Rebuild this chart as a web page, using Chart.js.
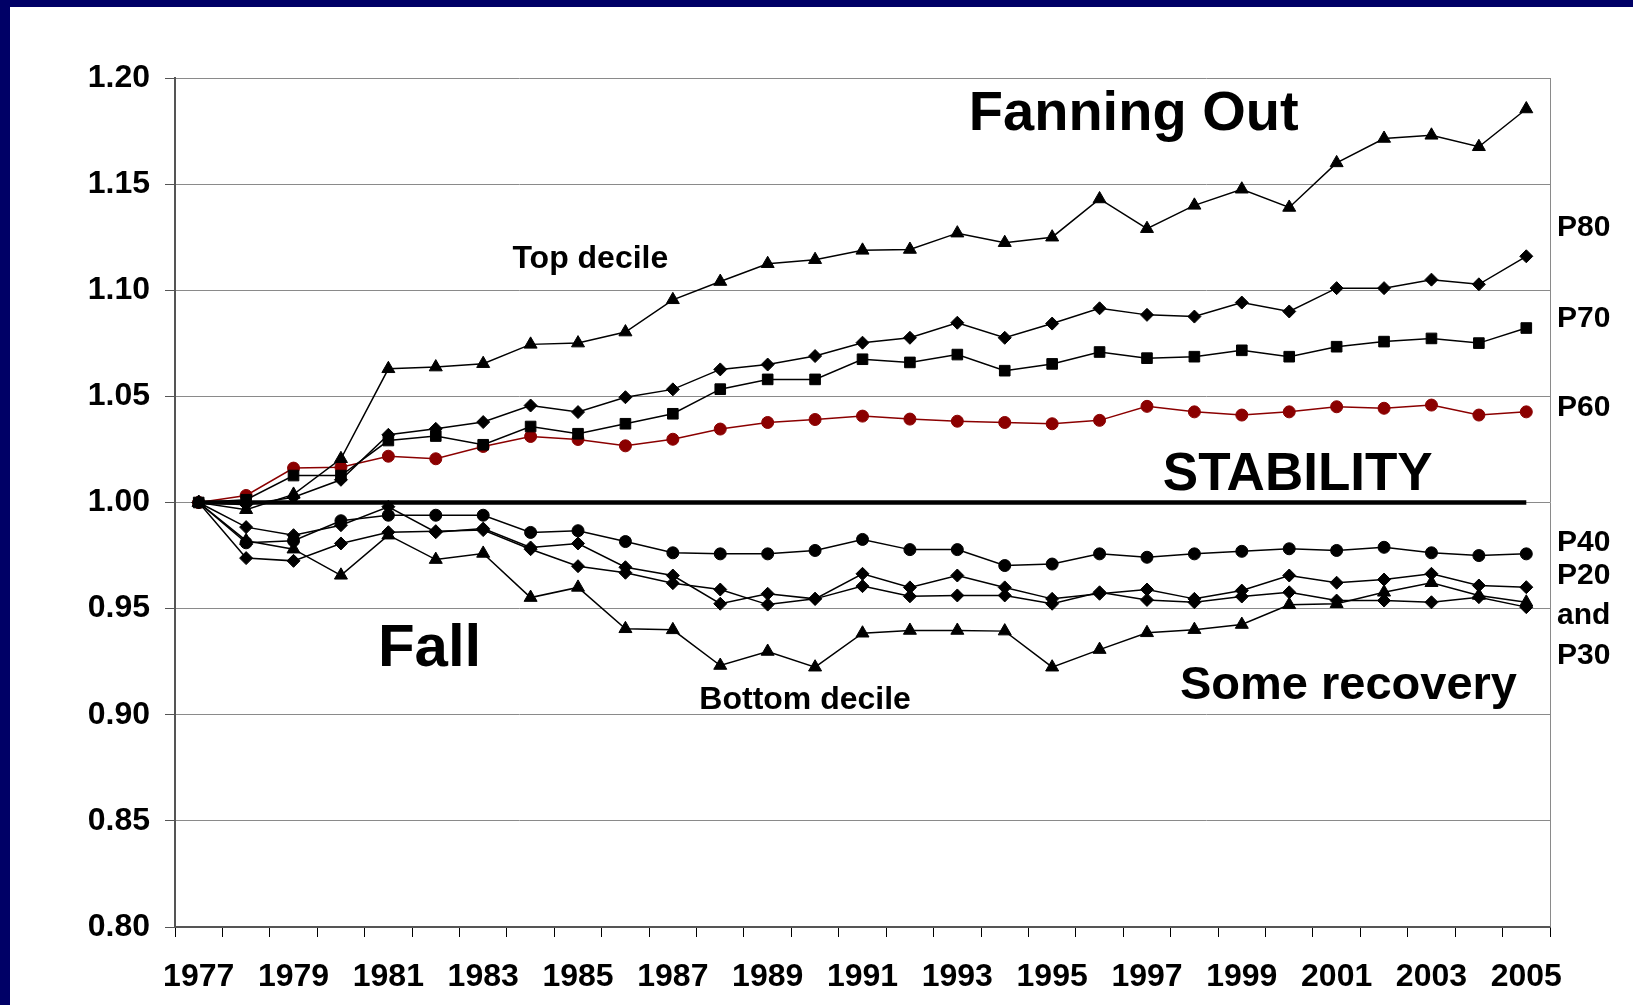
<!DOCTYPE html>
<html>
<head>
<meta charset="utf-8">
<script src="https://cdn.jsdelivr.net/npm/chart.js@4.4.7/dist/chart.umd.min.js"></script>
<style>
  html, body { margin: 0; padding: 0; width: 1633px; height: 1005px; overflow: hidden; background: #000066; }
  #frame { position: absolute; left: 10px; top: 7px; width: 1623px; height: 998px; background: #fff; }
  canvas { display: block; }
</style>
</head>
<body>
<div id="frame"><canvas id="c" width="1623" height="998"></canvas></div>
<script>
const years = ['1977','1978','1979','1980','1981','1982','1983','1984','1985','1986',
  '1987','1988','1989','1990','1991','1992','1993','1994','1995','1996',
  '1997','1998','1999','2000','2001','2002','2003','2004','2005'];

// relative wage by percentile, 1977 = 1.00
const topDecile = [1.000, 0.9966, 1.0038, 1.0206, 1.063, 1.0638, 1.0654, 1.0745, 1.0751, 1.0803,
  1.0955, 1.1041, 1.1125, 1.1144, 1.1188, 1.1192, 1.1269, 1.1224, 1.125, 1.143,
  1.129, 1.140, 1.1476, 1.139, 1.160, 1.1715, 1.173, 1.1676, 1.1854];
const p80 = [1.000, 0.999, 1.0025, 1.0107, 1.0319, 1.0347, 1.0379, 1.0457, 1.0426, 1.0496,
  1.0533, 1.0627, 1.065, 1.069, 1.0753, 1.0776, 1.0847, 1.0776, 1.0843, 1.0915,
  1.0884, 1.0876, 1.0942, 1.090, 1.101, 1.101, 1.105, 1.1028, 1.116];
const p70 = [1.000, 1.0013, 1.0127, 1.0127, 1.0292, 1.0313, 1.0272, 1.0358, 1.0324, 1.0371,
  1.0418, 1.0534, 1.058, 1.058, 1.0675, 1.066, 1.0697, 1.0621, 1.0653, 1.0709,
  1.068, 1.0687, 1.0717, 1.0687, 1.0734, 1.0758, 1.0773, 1.0751, 1.0822];
const p60 = [1.000, 1.0033, 1.0162, 1.0166, 1.0218, 1.0206, 1.0264, 1.0311, 1.0297, 1.0267,
  1.0298, 1.0346, 1.0377, 1.0391, 1.0407, 1.0393, 1.0383, 1.0377, 1.0371, 1.0387,
  1.0453, 1.0427, 1.0412, 1.0427, 1.0451, 1.0444, 1.0459, 1.0412, 1.0427];
const p50 = [1, 1, 1, 1, 1, 1, 1, 1, 1, 1, 1, 1, 1, 1, 1, 1, 1, 1, 1, 1,
  1, 1, 1, 1, 1, 1, 1, 1, 1];
const p40 = [1.000, 0.981, 0.982, 0.9914, 0.994, 0.994, 0.994, 0.9859, 0.9867, 0.9816,
  0.9763, 0.9758, 0.9758, 0.9774, 0.9826, 0.9778, 0.9778, 0.9703, 0.971, 0.9758,
  0.9742, 0.9758, 0.977, 0.9782, 0.9774, 0.9789, 0.9763, 0.975, 0.9758];
const p30 = [1.000, 0.9884, 0.9846, 0.9893, 0.998, 0.986, 0.9877, 0.9788, 0.9807, 0.9695,
  0.9656, 0.9523, 0.957, 0.9546, 0.9664, 0.960, 0.9656, 0.960, 0.9546, 0.957,
  0.959, 0.9546, 0.9585, 0.9656, 0.9622, 0.9637, 0.9664, 0.9609, 0.9601];
const p20 = [1.000, 0.9738, 0.9725, 0.9807, 0.986, 0.9865, 0.987, 0.978, 0.970, 0.9669,
  0.962, 0.959, 0.9519, 0.9546, 0.9606, 0.9558, 0.9562, 0.9562, 0.9523, 0.9577,
  0.9541, 0.953, 0.9557, 0.9577, 0.9538, 0.9538, 0.953, 0.9554, 0.9507];
const bottomDecile = [1.000, 0.982, 0.978, 0.9657, 0.9846, 0.9731, 0.976, 0.9552, 0.960, 0.9405,
  0.940, 0.9232, 0.9298, 0.9224, 0.9384, 0.9397, 0.9397, 0.9394, 0.9224, 0.9307,
  0.9386, 0.9401, 0.9425, 0.9518, 0.9523, 0.9577, 0.9622, 0.9562, 0.953];

const FONT = "'Liberation Sans', Arial, sans-serif";

// text placed on the chart, positioned in data units (x = year index, y = value)
const notes = [
  { text: 'Fanning Out', x: 19.72, y: 1.183, size: 56 },
  { text: 'Top decile', x: 8.26, y: 1.1145, size: 32 },
  { text: 'STABILITY', x: 23.18, y: 1.0126, size: 53 },
  { text: 'Fall', x: 4.87, y: 0.9306, size: 60 },
  { text: 'Bottom decile', x: 12.79, y: 0.9071, size: 32 },
  { text: 'Some recovery', x: 24.25, y: 0.9137, size: 47 }
];
const sideLabels = [
  { text: 'P80', y: 1.1295 },
  { text: 'P70', y: 1.0867 },
  { text: 'P60', y: 1.0447 },
  { text: 'P40', y: 0.9811 },
  { text: 'P20', y: 0.9655 },
  { text: 'and', y: 0.9467 },
  { text: 'P30', y: 0.9279 }
];

function series(label, data, style, radius, color) {
  return {
    label, data,
    borderColor: color || '#000',
    backgroundColor: color || '#000',
    pointBackgroundColor: color || '#000',
    pointBorderColor: color || '#000',
    borderWidth: 1.5,
    pointStyle: style,
    pointRadius: radius,
    pointBorderWidth: 1,
    tension: 0
  };
}

const textPlugin = {
  id: 'notes',
  afterDatasetsDraw(chart) {
    const { ctx, chartArea, scales: { x, y } } = chart;
    ctx.save();
    ctx.fillStyle = '#000';
    ctx.textAlign = 'center';
    ctx.textBaseline = 'middle';
    notes.forEach(n => {
      ctx.font = 'bold ' + n.size + 'px ' + FONT;
      ctx.fillText(n.text, x.getPixelForValue(n.x), y.getPixelForValue(n.y));
    });
    ctx.textAlign = 'left';
    ctx.font = 'bold 30px ' + FONT;
    sideLabels.forEach(s => {
      ctx.fillText(s.text, chartArea.right + 7, y.getPixelForValue(s.y));
    });
    ctx.restore();
  },
  beforeDatasetsDraw(chart) {
    const { ctx, chartArea } = chart;
    ctx.save();
    ctx.strokeStyle = '#8a8a8a';
    ctx.lineWidth = 1;
    ctx.beginPath();
    ctx.moveTo(chartArea.right + 0.5, chartArea.top);
    ctx.lineTo(chartArea.right + 0.5, chartArea.bottom);
    ctx.stroke();
    ctx.restore();
  }
};

new Chart(document.getElementById('c'), {
  type: 'line',
  data: {
    labels: years,
    datasets: [
      { label: 'P50', data: p50, borderColor: '#000', borderWidth: 4.5, pointRadius: 0, tension: 0 },
      series('Top decile', topDecile, 'triangle', 7.5),
      series('P80', p80, 'rectRot', 6.5),
      series('P70', p70, 'rect', 7.5),
      series('P60', p60, 'circle', 6, '#8b0000'),
      series('P40', p40, 'circle', 6),
      series('P30', p30, 'rectRot', 6.5),
      series('P20', p20, 'rectRot', 6.5),
      series('Bottom decile', bottomDecile, 'triangle', 7.5)
    ]
  },
  options: {
    responsive: false,
    animation: false,
    events: [],
    layout: { padding: { top: 71, right: 83, left: 0, bottom: 0 } },
    plugins: { legend: { display: false }, tooltip: { enabled: false } },
    scales: {
      x: {
        offset: true,
        afterFit(scale) { scale.height = 78; },
        grid: { offset: true, drawOnChartArea: false, drawTicks: true, tickLength: 10, tickColor: '#000', tickWidth: 1 },
        border: { color: '#555', width: 2 },
        ticks: {
          autoSkip: false, maxRotation: 0, padding: 21, color: '#000',
          font: { family: FONT, size: 32, weight: 'bold' },
          callback(v, i) { return i % 2 === 0 ? years[i] : ''; }
        }
      },
      y: {
        min: 0.8, max: 1.2,
        afterFit(scale) { scale.width = 165; },
        grid: { color: '#8a8a8a', lineWidth: 1, tickLength: 10, tickColor: '#555' },
        border: { color: '#555', width: 2 },
        ticks: {
          stepSize: 0.05, padding: 15, color: '#000',
          font: { family: FONT, size: 32, weight: 'bold' },
          callback(v) { return v.toFixed(2); }
        }
      }
    }
  },
  plugins: [textPlugin]
});
</script>
</body>
</html>
